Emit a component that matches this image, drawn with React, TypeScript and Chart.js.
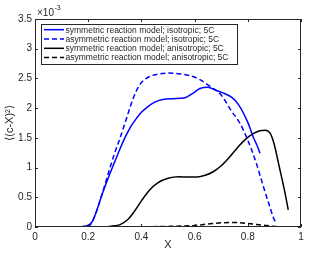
import React, { useEffect, useRef } from 'react';
import { Chart, registerables } from 'chart.js';
Chart.register(...registerables);

const seriesLabels = [
  'symmetric reaction model; isotropic; 5C',
  'asymmetric reaction model; isotropic; 5C',
  'symmetric reaction model; anisotropic; 5C',
  'asymmetric reaction model; anisotropic; 5C',
];

const symIsoX = [0.11, 0.15, 0.18, 0.2, 0.215, 0.23, 0.25, 0.28, 0.3, 0.32, 0.34, 0.36, 0.38, 0.4, 0.42, 0.45, 0.48, 0.52, 0.56, 0.59, 0.62, 0.65, 0.68, 0.71, 0.74, 0.765, 0.8, 0.82, 0.835, 0.846];
const symIsoY = [0, 0.005, 0.01, 0.03, 0.09, 0.25, 0.52, 0.88, 1.1, 1.32, 1.52, 1.69, 1.82, 1.93, 2.01, 2.1, 2.145, 2.16, 2.17, 2.24, 2.33, 2.35, 2.3, 2.25, 2.18, 2.06, 1.76, 1.52, 1.37, 1.24];

const asymIsoX = [0.2, 0.215, 0.23, 0.25, 0.28, 0.3, 0.32, 0.34, 0.36, 0.38, 0.4, 0.43, 0.46, 0.5, 0.54, 0.58, 0.62, 0.66, 0.7, 0.74, 0.77, 0.8, 0.83, 0.86, 0.88, 0.9, 0.91];
const asymIsoY = [0, 0.08, 0.25, 0.52, 0.97, 1.25, 1.5, 1.77, 2.05, 2.28, 2.43, 2.53, 2.57, 2.59, 2.58, 2.55, 2.48, 2.36, 2.22, 1.94, 1.75, 1.46, 1.1, 0.66, 0.38, 0.12, 0.07];

const symAnisoX = [0.2, 0.25, 0.28, 0.3, 0.32, 0.35, 0.37, 0.4, 0.43, 0.46, 0.5, 0.54, 0.58, 0.61, 0.64, 0.67, 0.7, 0.73, 0.76, 0.79, 0.82, 0.845, 0.865, 0.885, 0.9, 0.915, 0.93, 0.94, 0.952];
const symAnisoY = [0, 0.005, 0.01, 0.02, 0.04, 0.13, 0.24, 0.44, 0.62, 0.74, 0.82, 0.845, 0.84, 0.84, 0.87, 0.93, 1.03, 1.17, 1.33, 1.47, 1.57, 1.62, 1.63, 1.57, 1.38, 1.08, 0.78, 0.57, 0.29];

const asymAnisoX = [0.11, 0.2, 0.3, 0.4, 0.5, 0.55, 0.6, 0.65, 0.7, 0.75, 0.8, 0.85, 0.9, 0.95];
const asymAnisoY = [0, 0, 0, 0.003, 0.01, 0.015, 0.025, 0.05, 0.07, 0.075, 0.06, 0.035, 0.01, 0];

const xTicks = [0, 0.2, 0.4, 0.6, 0.8, 1];
const yTicks = [0, 0.5, 1, 1.5, 2, 2.5, 3, 3.5];

const xTitle = 'X';
const yTitle = '\u27E8(c-X)\u00B2\u27E9';
const scaleBase = '\u00D710';
const scaleExp = '-3';

const colors = ['#0000ff', '#0000ff', '#000000', '#000000'];
const dashes: number[][] = [[], [5, 3], [], [5, 3]];

const FONT = '"Liberation Sans", Arial, Helvetica, sans-serif';
const AXIS = '#262626';

function pts(xs: number[], ys: number[]) {
  return xs.map((x, i) => ({ x, y: ys[i] }));
}

export default function App() {
  const ref = useRef<HTMLCanvasElement>(null);
  useEffect(() => {
    document.body.style.margin = '0';
    const canvas = ref.current!;
    const seriesData = [
      pts(symIsoX, symIsoY),
      pts(asymIsoX, asymIsoY),
      pts(symAnisoX, symAnisoY),
      pts(asymAnisoX, asymAnisoY),
    ];
    const decor = {
      id: 'decor',
      afterDraw(chart: any) {
        const ctx = chart.ctx;
        const a = chart.chartArea;
        const xs = chart.scales.x;
        const ys = chart.scales.y;
        ctx.save();
        ctx.strokeStyle = AXIS;
        ctx.lineWidth = 1;
        ctx.setLineDash([]);
        ctx.strokeRect(a.left + 0.5, a.top + 0.5, a.right - a.left - 1, a.bottom - a.top - 1);
        const tl = 3;
        ctx.beginPath();
        xTicks.forEach((v) => {
          const px = Math.round(xs.getPixelForValue(v)) + 0.5;
          ctx.moveTo(px, a.bottom);
          ctx.lineTo(px, a.bottom - tl);
          ctx.moveTo(px, a.top);
          ctx.lineTo(px, a.top + tl);
        });
        yTicks.forEach((v) => {
          const py = Math.round(ys.getPixelForValue(v)) + 0.5;
          ctx.moveTo(a.left, py);
          ctx.lineTo(a.left + tl, py);
          ctx.moveTo(a.right, py);
          ctx.lineTo(a.right - tl, py);
        });
        ctx.stroke();

        // exponent label
        ctx.fillStyle = AXIS;
        ctx.textBaseline = 'middle';
        ctx.textAlign = 'left';
        ctx.font = `10px ${FONT}`;
        ctx.fillText(scaleBase, 37, 13);
        const w = ctx.measureText(scaleBase).width;
        ctx.font = `7px ${FONT}`;
        ctx.fillText(scaleExp, 37 + w + 0.5, 8);

        // axis titles
        ctx.font = `11px ${FONT}`;
        ctx.textAlign = 'center';
        ctx.fillText(xTitle, (a.left + a.right) / 2, 245);
        ctx.save();
        ctx.translate(10, (a.top + a.bottom) / 2);
        ctx.rotate(-Math.PI / 2);
        ctx.fillText(yTitle, 0, 0);
        ctx.restore();

        // legend
        const lx = 41, ly = 24, lw = 196, lh = 40;
        ctx.fillStyle = '#ffffff';
        ctx.fillRect(lx, ly, lw, lh);
        ctx.strokeStyle = AXIS;
        ctx.lineWidth = 1;
        ctx.strokeRect(lx + 0.5, ly + 0.5, lw, lh);
        ctx.font = `8.5px ${FONT}`;
        ctx.textAlign = 'left';
        ctx.textBaseline = 'middle';
        seriesLabels.forEach((lab, i) => {
          const yy = ly + 5.7 + i * 9.3;
          ctx.strokeStyle = colors[i];
          ctx.lineWidth = 1.5;
          ctx.setLineDash(dashes[i]);
          ctx.beginPath();
          ctx.moveTo(44, yy);
          ctx.lineTo(64, yy);
          ctx.stroke();
          ctx.setLineDash([]);
          ctx.fillStyle = AXIS;
          ctx.fillText(lab, 65.5, yy + 0.5);
        });
        ctx.restore();
      },
    };
    const chart = new Chart(canvas, {
      type: 'line',
      data: {
        datasets: seriesData.map((d, i) => ({
          label: seriesLabels[i],
          data: d,
          borderColor: colors[i],
          borderWidth: 1.5,
          borderDash: dashes[i],
          pointRadius: 0,
          fill: false,
          cubicInterpolationMode: 'monotone' as const,
        })),
      },
      options: {
        responsive: false,
        animation: false,
        layout: { padding: { top: 19, right: 11, left: 0, bottom: 0 } },
        plugins: { legend: { display: false }, tooltip: { enabled: false } },
        scales: {
          x: {
            type: 'linear',
            min: 0,
            max: 1,
            afterBuildTicks: (s: any) => {
              s.ticks = xTicks.map((v) => ({ value: v }));
            },
            afterFit: (s: any) => {
              s.height = 27;
            },
            grid: { display: false, drawTicks: false },
            border: { display: false },
            ticks: {
              color: AXIS,
              padding: 4,
              maxRotation: 0,
              autoSkip: false,
              font: { family: FONT, size: 10 },
              callback: (v: any) => String(v),
            },
          },
          y: {
            type: 'linear',
            min: 0,
            max: 3.5,
            afterBuildTicks: (s: any) => {
              s.ticks = yTicks.map((v) => ({ value: v }));
            },
            afterFit: (s: any) => {
              s.width = 35;
            },
            grid: { display: false, drawTicks: false },
            border: { display: false },
            ticks: {
              color: AXIS,
              padding: 3,
              autoSkip: false,
              font: { family: FONT, size: 10 },
              callback: (v: any) => String(v),
            },
          },
        },
      },
      plugins: [decor],
    } as any);
    return () => chart.destroy();
  }, []);
  return (
    <div style={{ width: 312, height: 254 }}>
      <canvas ref={ref} width={312} height={254} style={{ display: 'block' }} />
    </div>
  );
}
